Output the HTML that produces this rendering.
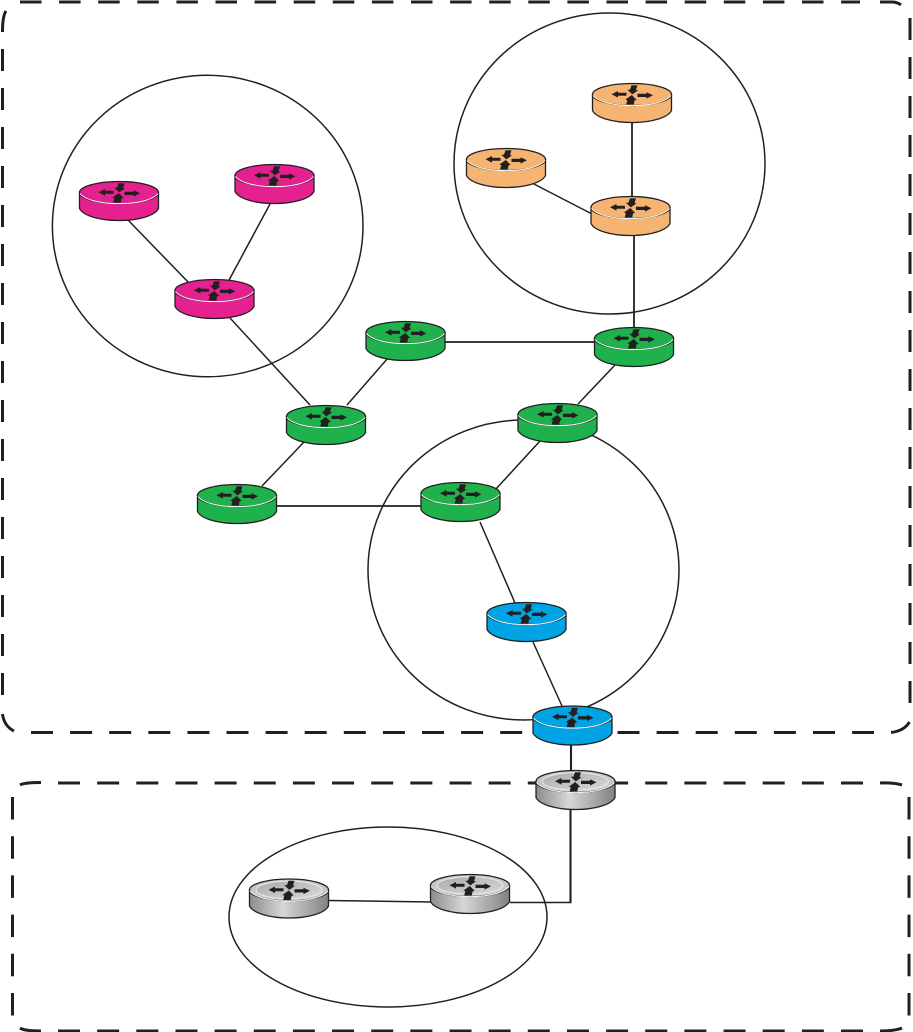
<!DOCTYPE html>
<html>
<head>
<meta charset="utf-8">
<style>
html,body{margin:0;padding:0;background:#fff;width:913px;height:1032px;overflow:hidden}
svg{display:block}
.d{fill:none;stroke:#231f20;stroke-width:3}
.l{fill:none;stroke:#231f20;stroke-width:1.5}
.t{fill:none;stroke:#231f20;stroke-width:2.1}
</style>
</head>
<body>
<svg width="913" height="1032" viewBox="0 0 913 1032">
<defs>
<linearGradient id="gb" x1="0" x2="1" y1="0" y2="0">
<stop offset="0" stop-color="#8b8c8e"/><stop offset=".42" stop-color="#d6d7d8"/><stop offset="1" stop-color="#818285"/>
</linearGradient>
<linearGradient id="gt" x1="0" x2="1" y1="0" y2="1">
<stop offset="0" stop-color="#a9aaac"/><stop offset="1" stop-color="#d8d9da"/>
</linearGradient>
<g id="ar">
<polygon fill="#231f20" points="19.500,11.2 26,8 26,9.800 34.500,9.800 34.500,12.800 26,12.800 26,14.600"/>
<polygon fill="#231f20" points="61,12.300 54.500,9.200 54.500,10.800 45.500,10.800 45.500,14 54.500,14 54.500,15.600"/>
<polygon fill="#231f20" points="40.300,11.400 35.300,6.800 38,6.600 39.500,2.200 45.500,2.400 44,7 46,7.400"/>
<polygon fill="#231f20" points="39.800,12 44.800,17 42.600,17.200 41.800,21.500 34.200,21.500 35.300,17 33.300,16.600"/>
</g>
<g id="body">
<path d="M0.500 11.500 V27.500 C4 34.500 20 39.500 40 39.500 C60 39.500 76 34.500 79.500 27.500 V11.500 Z" stroke="#231f20" stroke-width="1.300"/>
<ellipse cx="40" cy="11.500" rx="39.500" ry="11" stroke="#231f20" stroke-width="1.300"/>
<path d="M1 12.500 C6 19 22 22.600 40 22.600 C58 22.600 74 19 79 12.500" fill="none" stroke="#fff" stroke-width="1"/>
</g>
<g id="r"><use href="#body"/><use href="#ar"/></g>
<g id="gr">
<path d="M0.500 11.500 V27.500 C4 34.500 20 39.500 40 39.500 C60 39.500 76 34.500 79.500 27.500 V11.500 Z" fill="url(#gb)" stroke="#231f20" stroke-width="1.300"/>
<ellipse cx="40" cy="11.500" rx="39.500" ry="11" fill="#c4c5c7" stroke="#231f20" stroke-width="1.300"/>
<ellipse cx="40" cy="11.500" rx="33" ry="8.800" fill="url(#gt)" stroke="#e6e6e7" stroke-width="1.200"/>
<path d="M1 12.500 C6 19 22 22.600 40 22.600 C58 22.600 74 19 79 12.500" fill="none" stroke="#f4f4f4" stroke-width="1"/>
<use href="#ar"/>
</g>
</defs>

<g class="d">
<path d="M20 2 H860" stroke-dasharray="21.500 17.600"/>
<path d="M880 2 H893 Q898 2.500 901 5"/>
<path d="M910 18 V704" stroke-dasharray="22 17"/>
<path d="M909.500 722 Q904 731 891 732.500"/>
<path d="M31 732.500 H874" stroke-dasharray="22 17.100"/>
<path d="M2.500 714 Q4 726 14 731"/>
<path d="M2.500 49 V696" stroke-dasharray="22 17"/>
<path d="M2.500 32 Q2.500 16 6 11"/>
<path d="M20 785 Q24 782.500 41 782.500"/>
<path d="M58 783 H863" stroke-dasharray="22 17.150"/>
<path d="M880 783 Q895 782.500 902 785"/>
<path d="M909 797 V1016" stroke-dasharray="22.500 16.700"/>
<path d="M880 1031 Q895 1031 902 1028"/>
<path d="M58 1031 H863" stroke-dasharray="22 17.150"/>
<path d="M20 1028 Q24 1031 41 1031"/>
<path d="M12.500 797 V1016" stroke-dasharray="22.500 16.700"/>
</g>

<g class="l">
<ellipse cx="207.700" cy="226" rx="155.300" ry="150.800"/>
<ellipse cx="609.500" cy="163.500" rx="155.500" ry="150.500"/>
<ellipse cx="523.500" cy="570" rx="155.500" ry="150"/>
<ellipse cx="388" cy="917" rx="159" ry="90"/>
</g>

<g class="l">
<path d="M128 220 L190 284"/>
<path d="M270 204 L228 282"/>
<path d="M230 318 L310 405"/>
<path d="M632 115 V200" stroke-width="1.800"/>
<path d="M532 183 L592 214"/>
<path d="M634 235 V330" stroke-width="1.800"/>
<path d="M445 342 H595" stroke-width="1.700"/>
<path d="M347 405 L388 358"/>
<path d="M262 486 L304 442"/>
<path d="M578 404 L615 365"/>
<path d="M276 506 H422" stroke-width="1.700"/>
<path d="M495 490 L540 441"/>
<path d="M480 522 L515 603"/>
<path d="M533 642 L562 706"/>
<path d="M329 900.500 L431 902"/>
</g>
<path class="t" d="M571 745 V772"/>
<path class="t" d="M570.500 808 V902.500"/>
<path d="M510 902.500 H571.500" fill="none" stroke="#231f20" stroke-width="1.600"/>

<g fill="#e5208f">
<use href="#r" x="79" y="181"/>
<use href="#r" x="234.500" y="164"/>
<use href="#r" x="174.500" y="279"/>
</g>
<g fill="#f6b473">
<use href="#r" x="592" y="83"/>
<use href="#r" x="466" y="148"/>
<use href="#r" x="590.500" y="196"/>
</g>
<g fill="#1fb14c">
<use href="#r" x="365.500" y="321"/>
<use href="#r" x="594" y="327"/>
<use href="#r" x="286" y="405"/>
<use href="#r" x="517.500" y="403"/>
<use href="#r" x="197" y="484"/>
<use href="#r" x="420.500" y="482"/>
</g>
<g fill="#00a3e3">
<use href="#r" x="486.500" y="602"/>
<use href="#r" x="532.500" y="705.500"/>
</g>
<use href="#gr" x="535.500" y="770"/>
<use href="#gr" x="249" y="878.500"/>
<use href="#gr" x="430" y="874"/>
</svg>
</body>
</html>
